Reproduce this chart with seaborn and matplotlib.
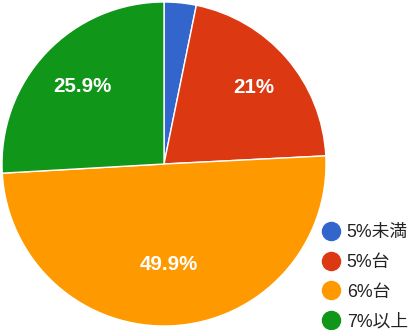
import numpy as np
import matplotlib
matplotlib.use("Agg")
import matplotlib.pyplot as plt
from matplotlib.lines import Line2D
import seaborn as sns

categories = ["5%未満", "5%台", "6%台", "7%以上"]
values = [3.2, 21.0, 49.9, 25.9]
colors_hex = ["#3366cc", "#dc3912", "#ff9900", "#109618"]

sns.set_theme(style="white")
plt.rcParams["font.family"] = ["Liberation Sans", "Noto Sans CJK JP", "DejaVu Sans"]

palette = sns.color_palette(colors_hex)

fig = plt.figure(figsize=(4.15, 3.30), dpi=100)
W, H = 415, 330
cx, cy, r = 164, 164, 162
ax = fig.add_axes([(cx - r) / W, (H - cy - r) / H, 2 * r / W, 2 * r / H])

def fmt(p):
    if p < 5:
        return ""
    s = f"{p:.1f}"
    if s.endswith(".0"):
        s = s[:-2]
    return s + "%"

wedges, texts, autotexts = ax.pie(
    values, colors=palette, startangle=90, counterclock=False,
    autopct=fmt, pctdistance=0.68,
    wedgeprops=dict(edgecolor="white", linewidth=1.0),
    textprops=dict(color="white", fontsize=14.8, fontweight="bold"),
)
# per-slice label radial distance
label_dist = [0.7, 0.727, 0.62, 0.694]
for w, t, d in zip(wedges, autotexts, label_dist):
    ang = np.deg2rad((w.theta1 + w.theta2) / 2)
    t.set_position((d * np.cos(ang), d * np.sin(ang)))
    t.set_va("center")
    t.set_ha("center")

ax.set_xlim(-1.0, 1.0)
ax.set_ylim(-1.0, 1.0)
ax.set_aspect("equal")
ax.axis("off")

handles = [Line2D([0], [0], marker="o", linestyle="none", markersize=13,
                  markerfacecolor=c, markeredgecolor=c) for c in palette]
leg = fig.legend(handles, categories, loc="upper left",
                 bbox_to_anchor=(321 / W, 1 - 224 / H), frameon=False,
                 fontsize=12.8, labelcolor="#222222", handletextpad=0.35,
                 labelspacing=0.72, handlelength=1.1, borderpad=0, borderaxespad=0)

fig.savefig("out.png", dpi=100)
